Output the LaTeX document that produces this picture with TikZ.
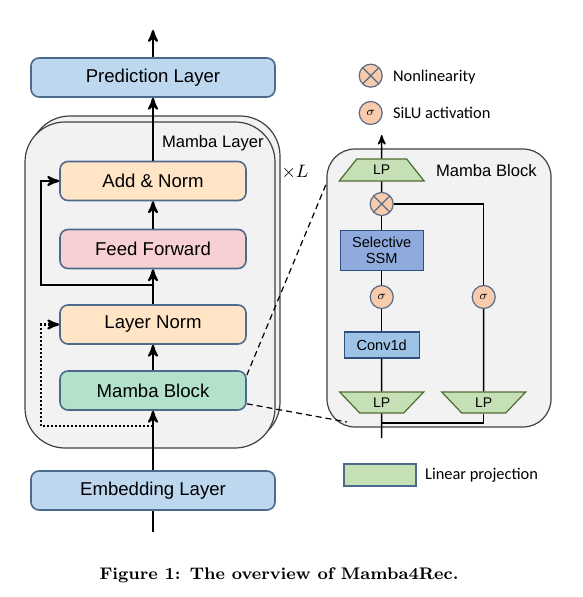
\documentclass[tikz,border=0pt]{standalone}
\usepackage{amssymb,amsmath}
\usepackage{fontspec}
\newfontfamily\arialfont{Liberation Sans}
\newfontfamily\calibfont{Carlito}
\usepackage{tikz}
\usetikzlibrary{arrows,shapes.geometric}

\definecolor{boxline}{HTML}{4C6A8C}
\definecolor{layerblue}{HTML}{BDD7EE}
\definecolor{normorange}{HTML}{FFE4C6}
\definecolor{ffpink}{HTML}{F8D0D3}
\definecolor{mambagreen}{HTML}{B3E2CB}
\definecolor{panelgray}{HTML}{F2F2F2}
\definecolor{panelline}{HTML}{404040}
\definecolor{lpgreen}{HTML}{C5E0B4}
\definecolor{lpline}{HTML}{4E6B30}
\definecolor{opfill}{HTML}{F8CBAD}
\definecolor{opline}{HTML}{5A6B85}
\definecolor{ssmblue}{HTML}{8FAADC}
\definecolor{convblue}{HTML}{9DC3E6}
\definecolor{darkblue}{HTML}{2F4F7F}

\begin{document}
\begin{tikzpicture}[x=0.5pt,y=-0.5pt,>=stealth',line width=1.1pt,
                    node distance=50pt]
  \tikzstyle{layer}=[rectangle,rounded corners=4pt,draw=boxline,line width=0.8pt,
                     minimum height=19.5pt,minimum width=93pt,
                     font=\arialfont\fontsize{9.3}{11}\selectfont]
  \tikzstyle{stack}=[draw=panelline,fill=panelgray,rounded corners=20pt,line width=0.6pt]
  \tikzstyle{lp}=[trapezium,trapezium stretches=true,draw=lpline,fill=lpgreen,
                  line width=0.6pt,inner sep=0pt,font=\arialfont\fontsize{7}{8}\selectfont]
  \tikzstyle{op}=[circle,draw=opline,fill=opfill,line width=0.6pt,minimum size=11.5pt,
                  inner sep=0pt]
  \tikzstyle{mulop}=[op,path picture={\draw[opline,line width=0.6pt]
                       (path picture bounding box.south east) -- (path picture bounding box.north west)
                       (path picture bounding box.south west) -- (path picture bounding box.north east);}]
  \tikzstyle{sigop}=[op,font=\fontsize{6}{7}\selectfont]
  \tikzstyle{inner}=[rectangle,draw=darkblue,line width=0.6pt,
                     font=\arialfont\fontsize{7.3}{8}\selectfont,align=center]
  \tikzstyle{wire}=[line width=0.75pt]
  \tikzstyle{legendtext}=[anchor=west,inner sep=0pt,font=\calibfont\fontsize{8.2}{10}\selectfont]
  \tikzstyle{title}=[anchor=west,inner sep=0pt,font=\arialfont\fontsize{8.3}{10}\selectfont]

  \useasboundingbox (0,0) rectangle (582,597);

  % stacked Mamba layers
  \draw[stack] (30,116) rectangle (280,442);
  \draw[stack] (25,122) rectangle (275,448);

  \node[layer,fill=layerblue,minimum width=122pt] (emb) at (153,490.5) {Embedding Layer};
  \node[layer,fill=mambagreen] (mb)   [above of=emb]                       {Mamba Block};
  \node[layer,fill=normorange] (ln)   [above of=mb, node distance=33pt]    {Layer Norm};
  \node[layer,fill=ffpink]     (ff)   [above of=ln, node distance=37.75pt] {Feed Forward};
  \node[layer,fill=normorange] (an)   [above of=ff, node distance=34pt]    {Add \& Norm};
  \node[layer,fill=layerblue,minimum width=122pt]
                               (pred) [above of=an, node distance=51.75pt] {Prediction Layer};

  \node[title] (layerTitle) at (161,143) {Mamba Layer};
  \node[font=\fontsize{9.5}{10}\selectfont] (times) at (295,172) {$\times L$};

  \coordinate (src) at (153,532);
  \coordinate (out) at (153,30);
  \coordinate (r1)  at (153,285);
  \coordinate (r2)  at (153,426);

  \draw      (src)  -- (emb);
  \draw[->]  (emb)  -- (mb);
  \draw[->]  (mb)   -- (ln);
  \draw[->]  (ln)   -- (ff);
  \draw[->]  (ff)   -- (an);
  \draw[->]  (an)   -- (pred);
  \draw[->]  (pred) -- (out);
  \draw[->]  (r1) -- ++(-112,0) |- (an);
  \draw[->,dash pattern=on 1pt off 1pt] (r2) -- ++(-112,0) |- (ln);

  % Mamba block in detail
  \node[draw=panelline,fill=panelgray,rounded corners=14pt,line width=0.6pt,
        minimum width=112pt,minimum height=139pt] (blk) at (439,288) {};
  \node[title] (blkTitle) at (435,171) {Mamba Block};

  \coordinate (blkA) at (327,182);
  \coordinate (blkB) at (347,422);
  \draw[dashed,line width=0.6pt,dash pattern=on 3pt off 2pt] ([yshift=-2.5pt]mb.north east) -- (blkA);
  \draw[dashed,line width=0.6pt,dash pattern=on 3pt off 2pt] ([yshift=3.5pt]mb.south east) -- (blkB);

  \node[lp,trapezium angle=58,minimum width=42.5pt,minimum height=11pt] (lp3) at (381.7,170) {LP};
  \node[mulop]  (mul)  at (381.7,204) {};
  \node[inner,fill=ssmblue,minimum width=41.5pt,minimum height=18.5pt] (ssm) at (381.7,250.5) {Selective\\SSM};
  \node[sigop]  (sg1)  at (381.7,297) {$\sigma$};
  \node[sigop]  (sg2)  at (483.7,297) {$\sigma$};
  \node[inner,fill=convblue,minimum width=37.5pt,minimum height=13pt] (conv) at (381.7,345) {Conv1d};
  \node[lp,trapezium angle=51,shape border rotate=180,minimum width=42pt,minimum height=10.5pt] (lp1) at (381.7,402.5) {LP};
  \node[lp,trapezium angle=51,shape border rotate=180,minimum width=42pt,minimum height=10.5pt] (lp2) at (483.7,402.5) {LP};

  \coordinate (blkout) at (381.7,135);
  \coordinate (blkin)  at (381.7,438);
  \coordinate (fork)   at (381.7,423);

  \draw[wire,->] (lp3) -- (blkout);
  \draw[wire] (lp3)  -- (mul);
  \draw[wire] (mul)  -- (ssm);
  \draw[wire] (ssm)  -- (sg1);
  \draw[wire] (sg1)  -- (conv);
  \draw[wire] (conv) -- (lp1);
  \draw[wire] (blkin) -- (lp1);
  \draw[wire] (fork) -| (lp2);
  \draw[wire] (lp2)  -- (sg2);
  \draw[wire] (mul)  -| (sg2);

  % legend
  \node[mulop] (lgMul) at (370.7,75.7) {};
  \node[legendtext] (lgMulText) at (392,77) {Nonlinearity};
  \node[sigop] (lgSig) at (370.7,113) {$\sigma$};
  \node[legendtext] (lgSigText) at (392,113) {SiLU activation};
  \node[rectangle,draw=boxline,fill=lpgreen,line width=0.6pt,minimum width=36pt,
        minimum height=11pt] (lgLp) at (380,475) {};
  \node[legendtext] (lgLpText) at (424,475) {Linear projection};

  \node[font=\rmfamily\bfseries\fontsize{8.4}{10}\selectfont] (caption) at (279,575)
       {Figure 1: The overview of Mamba4Rec.};
\end{tikzpicture}
\end{document}
